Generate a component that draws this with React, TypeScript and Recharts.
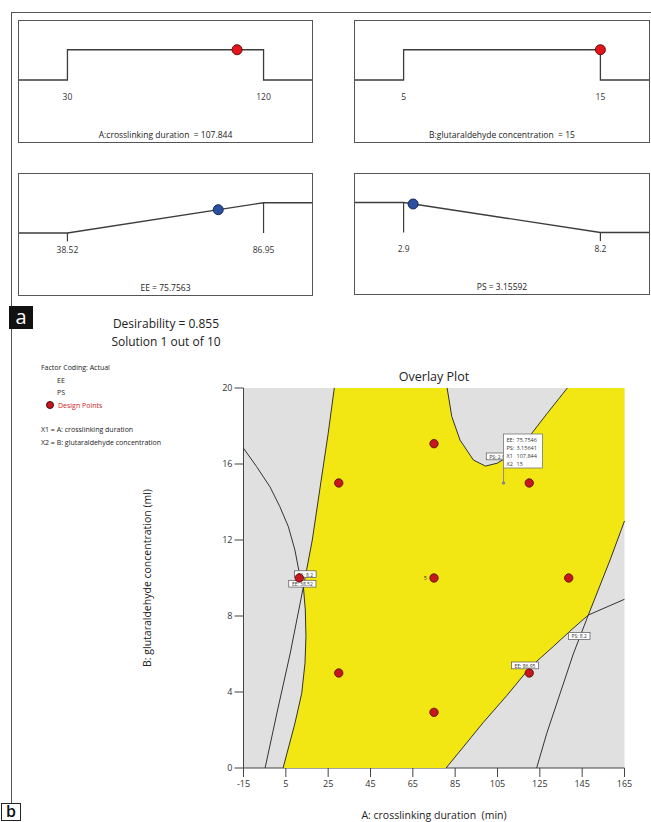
import React from "react";
import {
  ComposedChart,
  Line,
  Scatter,
  XAxis,
  YAxis,
  CartesianGrid,
  ReferenceDot,
  ReferenceLine,
} from "recharts";

// ---- panel a: desirability ramps ----
const factorNames = ["A:crosslinking duration", "B:glutaraldehyde concentration"];
const factorLow = [30, 5];
const factorHigh = [120, 15];
const factorValue = [107.844, 15];
const factorDesirability = [1, 1];

const responseNames = ["EE", "PS"];
const responseGoal = ["max", "min"];
const responseLow = [38.52, 2.9];
const responseHigh = [86.95, 8.2];
const responseValue = [75.7563, 3.15592];
const responseDesirability = [0.77, 0.95];

const desirability = 0.855;
const solutionNo = 1;
const solutionCount = 10;

// ---- panel b: overlay plot ----
const xTicks = [-15, 5, 25, 45, 65, 85, 105, 125, 145, 165];
const yTicks = [0, 4, 8, 12, 16, 20];

const designX = [30, 30, 75, 75, 75, 120, 120, 11.36, 138.64];
const designY = [5, 15, 2.93, 10, 17.07, 5, 15, 10, 10];
const designReps = [1, 1, 1, 5, 1, 1, 1, 1, 1];

// contour lines, [x, y]
const psLeftContour = [
  [-15, 16.83], [-8.8, 15.86], [-2.5, 14.8], [2.2, 13.75], [6.2, 12.7], [9.3, 11.47],
  [11.4, 10.25], [13.3, 9.54], [14.2, 8.32], [14.5, 6.91], [14.05, 5.51], [12.5, 3.93],
  [9.3, 2.35], [3.7, 0],
];
const eeLowContour = [
  [-4.8, 0], [1, 3], [7, 6], [13.3, 9.54], [17.5, 12], [21.5, 15], [25, 17.6], [27.9, 20],
];
const psLowContour = [
  [81.2, 20], [83.4, 18.5], [87.3, 17.26], [93.6, 16.21], [99.3, 15.89], [104.8, 16.04],
  [112.7, 16.56], [120.6, 17.53], [128.5, 18.67], [138, 20],
];
const eeHighContour = [
  [80.7, 0], [88.8, 1.1], [98.3, 2.4], [109.3, 3.8], [120.4, 5.3], [131.4, 6.4],
  [139.2, 7.2], [147.9, 8.05], [158.2, 8.55], [165, 8.88],
];
const psRightContour = [
  [123.5, 0], [128.2, 1.8], [134.5, 3.9], [140.8, 6.0], [147.9, 8.05], [158.2, 10.95], [165, 13.0],
];

const contourLabelText = ["PS: 8.2", "EE: 38.52", "PS: 8.2", "EE: 86.95", "PS: 2.9"];
const contourLabelX = [14.2, 12.8, 143.6, 118, 104.8];
const contourLabelY = [10.2, 9.7, 6.95, 5.4, 16.4];

const flagEE = 75.7546;
const flagPS = 3.15641;

const toPts = (a: number[][]) => a.map(([x, y]) => ({ x, y }));

const feasible = toPts([
  ...psLeftContour.slice(7).reverse(),
  ...eeLowContour.slice(3),
  ...psLowContour,
  [165, 20],
  ...psRightContour.slice(4).reverse(),
  ...eeHighContour.slice(0, 8).reverse(),
]);

const contours = [psLeftContour, eeLowContour, psLowContour, eeHighContour, psRightContour].map(toPts);

const design = designX.map((x, i) => ({ x, y: designY[i], reps: designReps[i] }));
const contourLabels = contourLabelText.map((text, i) => ({ x: contourLabelX[i], y: contourLabelY[i], text }));
const flag = [{ x: factorValue[0], y: factorValue[1] }];

const FONT = '"Open Sans", "Noto Sans", sans-serif';

const Txt = ({ x, y, size, color = "#222", anchor = "start", children }: any) => (
  <div
    style={{
      position: "absolute",
      left: x,
      top: y,
      fontSize: size,
      lineHeight: 1,
      color,
      whiteSpace: "pre",
      transform: `translate(${anchor === "middle" ? "-50%" : anchor === "end" ? "-100%" : "0"}, -50%)`,
    }}
  >
    {children}
  </div>
);

function RampPanel({ left, top, width, height, lo, hi, value, d, goal, caption, color, edge }: any) {
  const pad = (hi - lo) * 0.247;
  const x0 = lo - pad;
  const x1 = hi + pad;
  let pts: number[][];
  let segs: number[][];
  if (goal === "range") {
    pts = [[x0, 0], [lo, 0], [lo, 1], [hi, 1], [hi, 0], [x1, 0]];
    segs = [];
  } else if (goal === "max") {
    pts = [[x0, 0], [lo, 0], [hi, 1], [x1, 1]];
    segs = [[lo, 0, -0.28], [hi, 1, 0]];
  } else {
    pts = [[x0, 1], [lo, 1], [hi, 0], [x1, 0]];
    segs = [[lo, 1, 0], [hi, 0, -0.28]];
  }
  const data = toPts(pts);
  const tickLabel = { position: "center", fontSize: 8.5, fill: "#333", fontFamily: FONT };
  return (
    <div
      style={{
        position: "absolute",
        left,
        top,
        width,
        height,
        boxSizing: "border-box",
        border: "1px solid #555",
      }}
    >
      <ComposedChart width={width - 2} height={height - 2} data={data} margin={{ top: 0, right: 0, bottom: 0, left: 0 }}>
        <XAxis type="number" dataKey="x" domain={[x0, x1]} hide />
        <YAxis type="number" domain={[-2.05, 1.95]} hide />
        {segs.map((s, i) => (
          <ReferenceLine
            key={i}
            segment={[{ x: s[0], y: s[1] }, { x: s[0], y: s[2] }]}
            stroke="#3c3c3c"
            strokeWidth={1.2}
          />
        ))}
        <Line dataKey="y" type="linear" stroke="#3c3c3c" strokeWidth={1.3} dot={false} isAnimationActive={false} />
        <ReferenceDot x={lo} y={-0.55} r={0} label={{ ...tickLabel, value: String(lo) } as any} />
        <ReferenceDot x={hi} y={-0.55} r={0} label={{ ...tickLabel, value: String(hi) } as any} />
        <ReferenceDot x={value} y={d} r={5} fill={color} stroke={edge} strokeWidth={1} />
      </ComposedChart>
      <div
        style={{
          position: "absolute",
          left: 0,
          right: 0,
          bottom: 2,
          textAlign: "center",
          fontSize: 8.5,
          lineHeight: "10px",
          color: "#222",
          whiteSpace: "pre",
        }}
      >
        {caption}
      </div>
    </div>
  );
}

const noShape = () => <g />;

const designShape = (p: any) => (
  <g>
    <circle cx={p.cx} cy={p.cy} r={4.2} fill="#c8161d" stroke="#4a0c0c" strokeWidth={0.8} />
    {p.payload.reps > 1 ? (
      <text x={p.cx - 8.6} y={p.cy} fontSize={5.5} textAnchor="middle" dominantBaseline="central" fill="#333">
        {p.payload.reps}
      </text>
    ) : null}
  </g>
);

const labelShape = (p: any) => {
  const t = p.payload.text;
  const w = t.length * 2.8 + 2;
  return (
    <g>
      <rect x={p.cx - w / 2} y={p.cy - 3.4} width={w} height={6.8} fill="#fff" stroke="#555" strokeWidth={0.7} />
      <text x={p.cx} y={p.cy + 0.3} fontSize={5} textAnchor="middle" dominantBaseline="central" fill="#333">
        {t}
      </text>
    </g>
  );
};

const flagShape = (p: any) => {
  const rows = [
    ["EE:", String(flagEE)],
    ["PS:", String(flagPS)],
    ["X1", String(factorValue[0])],
    ["X2", String(factorValue[1])],
  ];
  const bx = p.cx;
  const by = p.cy - 49;
  return (
    <g>
      <line x1={p.cx} y1={p.cy} x2={p.cx} y2={p.cy - 15} stroke="#888" strokeWidth={0.9} />
      <circle cx={p.cx} cy={p.cy} r={1.7} fill="#888" />
      <rect x={bx} y={by} width={39} height={34} fill="#fff" stroke="#777" strokeWidth={0.8} />
      {rows.map((r, i) => (
        <g key={i}>
          <text x={bx + 3} y={by + 5.5 + 8 * i} fontSize={5.5} dominantBaseline="central" fill="#333">
            {r[0]}
          </text>
          <text x={bx + 13} y={by + 5.5 + 8 * i} fontSize={5.5} dominantBaseline="central" fill="#333">
            {r[1]}
          </text>
        </g>
      ))}
    </g>
  );
};

function OverlayPlot() {
  const tick = { fontSize: 9, fill: "#333", fontFamily: FONT };
  return (
    <div style={{ position: "absolute", left: 130, top: 370 }}>
      <ComposedChart width={521} height={430} margin={{ top: 18, right: 26.5, bottom: 0, left: 85.5 }}>
        <CartesianGrid horizontal={false} vertical={false} fill="#e0e0e0" />
        <XAxis
          type="number"
          dataKey="x"
          domain={[-15, 165]}
          ticks={xTicks}
          interval={0}
          height={32}
          tickSize={9}
          tickMargin={4}
          stroke="#444"
          tick={tick}
        />
        <XAxis xAxisId="top" orientation="top" type="number" dataKey="x" domain={[-15, 165]} height={0} tick={false} tickLine={false} stroke="#555" />
        <YAxis
          type="number"
          dataKey="y"
          domain={[0, 20]}
          ticks={yTicks}
          interval={0}
          width={28}
          tickSize={9}
          tickMargin={2}
          stroke="#444"
          tick={tick}
        />
        <YAxis yAxisId="right" orientation="right" type="number" dataKey="y" domain={[0, 20]} width={0} tick={false} tickLine={false} stroke="#555" />
        <Scatter
          data={feasible}
          shape={noShape}
          line={{ fill: "#f2e713", stroke: "none" }}
          lineType="joint"
          lineJointType="linear"
          isAnimationActive={false}
        />
        {contours.map((c, i) => (
          <Scatter
            key={i}
            data={c}
            shape={noShape}
            line={{ stroke: "#333", strokeWidth: 1 }}
            lineType="joint"
            lineJointType="linear"
            isAnimationActive={false}
          />
        ))}
        <Scatter data={contourLabels} shape={labelShape} isAnimationActive={false} />
        <Scatter data={design} shape={designShape} isAnimationActive={false} />
        <Scatter data={flag} shape={flagShape} isAnimationActive={false} />
      </ComposedChart>
    </div>
  );
}

export default function App() {
  const ramps = [
    { left: 18, top: 20, width: 295, height: 123, lo: factorLow[0], hi: factorHigh[0], value: factorValue[0], d: factorDesirability[0], goal: "range", caption: `${factorNames[0]}  = ${factorValue[0]}`, color: "#e3141b", edge: "#6a0a0a" },
    { left: 354, top: 20, width: 296, height: 123, lo: factorLow[1], hi: factorHigh[1], value: factorValue[1], d: factorDesirability[1], goal: "range", caption: `${factorNames[1]}  = ${factorValue[1]}`, color: "#e3141b", edge: "#6a0a0a" },
    { left: 18, top: 173, width: 295, height: 123, lo: responseLow[0], hi: responseHigh[0], value: responseValue[0], d: responseDesirability[0], goal: responseGoal[0], caption: `${responseNames[0]} = ${responseValue[0]}`, color: "#2c4f9f", edge: "#16295a" },
    { left: 354, top: 173, width: 296, height: 122, lo: responseLow[1], hi: responseHigh[1], value: responseValue[1], d: responseDesirability[1], goal: responseGoal[1], caption: `${responseNames[1]} = ${responseValue[1]}`, color: "#2c4f9f", edge: "#16295a" },
  ];
  return (
    <div
      style={{
        position: "absolute",
        left: 0,
        top: 0,
        width: 651,
        height: 822,
        background: "#fff",
        overflow: "hidden",
        fontFamily: FONT,
      }}
    >
      {/* figure frame */}
      <div style={{ position: "absolute", left: 11, top: 12, width: 640, height: 1, background: "#555" }} />
      <div style={{ position: "absolute", left: 11, top: 12, width: 1, height: 791, background: "#555" }} />

      {ramps.map((r, i) => (
        <RampPanel key={i} {...r} />
      ))}

      <div style={{ position: "absolute", left: 9, top: 306, width: 24, height: 23, background: "#111", color: "#fff", fontSize: 20, lineHeight: "21px", textAlign: "center" }}>
        a
      </div>

      <Txt x={166} y={324} size={12} anchor="middle">{`Desirability = ${desirability}`}</Txt>
      <Txt x={166} y={342} size={12} anchor="middle">{`Solution ${solutionNo} out of ${solutionCount}`}</Txt>

      <Txt x={41} y={367} size={7}>Factor Coding: Actual</Txt>
      <Txt x={57} y={380} size={7}>{responseNames[0]}</Txt>
      <Txt x={57} y={392} size={7}>{responseNames[1]}</Txt>
      <div style={{ position: "absolute", left: 45.5, top: 401, width: 8, height: 8, borderRadius: "50%", background: "#c8161d", boxSizing: "border-box", border: "0.8px solid #4a0c0c" }} />
      <Txt x={58} y={405} size={7} color="#d0191f">Design Points</Txt>
      <Txt x={41} y={429} size={7}>{`X1 = A: crosslinking duration`}</Txt>
      <Txt x={41} y={442} size={7}>{`X2 = B: glutaraldehyde concentration`}</Txt>

      <Txt x={434} y={377} size={12.5} anchor="middle">Overlay Plot</Txt>
      <OverlayPlot />
      <Txt x={434} y={815} size={10.5} anchor="middle">A: crosslinking duration  (min)</Txt>
      <div
        style={{
          position: "absolute",
          left: 147,
          top: 578,
          fontSize: 10.5,
          lineHeight: 1,
          color: "#222",
          whiteSpace: "nowrap",
          transform: "translate(-50%, -50%) rotate(-90deg)",
        }}
      >
        B: glutaraldehyde concentration  (ml)
      </div>

      <div style={{ position: "absolute", left: 1, top: 803, width: 20, height: 18, boxSizing: "border-box", background: "#fff", border: "1px solid #222", color: "#111", fontSize: 16, fontWeight: 600, lineHeight: "15px", textAlign: "center" }}>
        b
      </div>
    </div>
  );
}
